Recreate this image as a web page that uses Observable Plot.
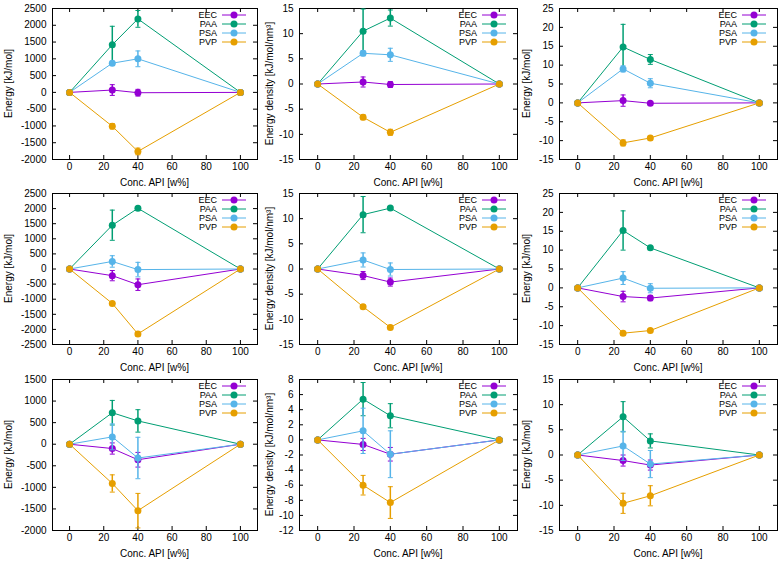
<!DOCTYPE html>
<html><head><meta charset="utf-8">
<script src="https://cdn.jsdelivr.net/npm/d3@7"></script>
<script src="https://cdn.jsdelivr.net/npm/@observablehq/plot@0.6"></script>
<style>
body{margin:0;background:#fff;}
#grid{position:relative;width:780px;height:562px;overflow:hidden;background:#fff;}
.cell{position:absolute;}
.cell svg{overflow:visible;}
</style></head><body><div id="grid"></div><script>
// ---------- data ----------
const concentrations = [0, 25, 40, 100];
const xTicks = [0, 20, 40, 60, 80, 100];
const seriesNames = ["EEC", "PAA", "PSA", "PVP"];
const seriesColors = ["#9400d3", "#009e73", "#56b4e9", "#e69f00"];

const yLabels = [
  "Energy [kJ/mol]", "Energy density [kJ/mol/nm³]", "Energy [kJ/mol]",
  "Energy [kJ/mol]", "Energy density [kJ/mol/nm³]", "Energy [kJ/mol]",
  "Energy [kJ/mol]", "Energy density [kJ/mol/nm³]", "Energy [kJ/mol]"
];
const xLabel = "Conc. API [w%]";
const yDomains = [
  [-2000, 2500], [-15, 15], [-15, 25],
  [-2500, 2500], [-15, 15], [-15, 25],
  [-2000, 1500], [-12, 8], [-15, 15]
];
const yTickSets = [
  [-2000, -1500, -1000, -500, 0, 500, 1000, 1500, 2000, 2500],
  [-15, -10, -5, 0, 5, 10, 15],
  [-15, -10, -5, 0, 5, 10, 15, 20, 25],
  [-2500, -2000, -1500, -1000, -500, 0, 500, 1000, 1500, 2000, 2500],
  [-15, -10, -5, 0, 5, 10, 15],
  [-15, -10, -5, 0, 5, 10, 15, 20, 25],
  [-2000, -1500, -1000, -500, 0, 500, 1000, 1500],
  [-12, -10, -8, -6, -4, -2, 0, 2, 4, 6, 8],
  [-15, -10, -5, 0, 5, 10, 15]
];

// one row per panel (left-to-right, top-to-bottom), values at concentrations 0, 25, 40, 100
const EEC_values = [
  [0, 70, -10, 0], [0, 0.4, -0.1, 0], [0, 0.6, -0.1, 0],
  [0, -220, -520, 0], [0, -1.3, -2.6, 0], [0, -2.3, -2.7, 0],
  [0, -100, -360, 0], [0, -0.6, -1.9, 0], [0, -1.1, -2.0, 0]
];
const EEC_errors = [
  [0, 160, 100, 0], [0, 1.0, 0.6, 0], [0, 1.5, 0.4, 0],
  [0, 170, 190, 0], [0, 0.8, 0.8, 0], [0, 1.4, 0.7, 0],
  [0, 130, 170, 0], [0, 0.8, 0.9, 0], [0, 1.1, 1.0, 0]
];
const PAA_values = [
  [0, 1420, 2190, 0], [0, 10.5, 13.1, 0], [0, 14.8, 11.5, 0],
  [0, 1450, 2010, 0], [0, 10.8, 12.1, 0], [0, 15.2, 10.6, 0],
  [0, 730, 540, 0], [0, 5.4, 3.2, 0], [0, 7.6, 2.8, 0]
];
const PAA_errors = [
  [0, 550, 250, 0], [0, 4.4, 1.6, 0], [0, 6.0, 1.3, 0],
  [0, 500, 60, 0], [0, 3.6, 0.3, 0], [0, 5.2, 0.3, 0],
  [0, 285, 260, 0], [0, 2.2, 1.6, 0], [0, 3.0, 1.4, 0]
];
const PSA_values = [
  [0, 870, 1000, 0], [0, 6.1, 5.8, 0], [0, 9.0, 5.2, 0],
  [0, 250, -20, 0], [0, 1.8, -0.1, 0], [0, 2.6, -0.1, 0],
  [0, 170, -320, 0], [0, 1.2, -1.9, 0], [0, 1.8, -1.8, 0]
];
const PSA_errors = [
  [0, 60, 235, 0], [0, 0.5, 1.3, 0], [0, 0.8, 1.2, 0],
  [0, 190, 240, 0], [0, 1.4, 1.3, 0], [0, 1.7, 1.2, 0],
  [0, 300, 480, 0], [0, 3.0, 3.1, 0], [0, 2.9, 2.7, 0]
];
const PVP_values = [
  [0, -1010, -1760, 0], [0, -6.6, -9.6, 0], [0, -10.6, -9.3, 0],
  [0, -1140, -2150, 0], [0, -7.5, -11.6, 0], [0, -12.0, -11.3, 0],
  [0, -910, -1540, 0], [0, -6.0, -8.3, 0], [0, -9.6, -8.1, 0]
];
const PVP_errors = [
  [0, 80, 100, 0], [0, 0.5, 0.6, 0], [0, 0.8, 0.5, 0],
  [0, 50, 70, 0], [0, 0.4, 0.4, 0], [0, 0.5, 0.3, 0],
  [0, 200, 400, 0], [0, 1.3, 2.1, 0], [0, 2.0, 2.0, 0]
];
const allValues = [EEC_values, PAA_values, PSA_values, PVP_values];
const allErrors = [EEC_errors, PAA_errors, PSA_errors, PVP_errors];

// ---------- layout ----------
const W = 260, H = 188, mT = 8, mB = 29, mR = 3;
const rowTops = [0, 185, 371];
const colLefts = [0, 260, 520];
const marginLefts = [52, 39, 39];
const yLabelX = [8, 9, 6];
const FONT = "'Liberation Sans', Arial, Helvetica, sans-serif";
const TICK_FS = 10, LABEL_FS = 10, LEGEND_FS = 9;

const capSymbol = {
  draw(ctx, size) {
    const w = Math.sqrt(size / Math.PI);
    ctx.moveTo(-w, 0); ctx.lineTo(w, 0);
  }
};

const grid = document.getElementById("grid");

for (let p = 0; p < 9; p++) {
  const row = Math.floor(p / 3), col = p % 3;
  const mL = marginLefts[col];
  const fw = W - mL - mR, fh = H - mT - mB;
  const yt = yTickSets[p];

  const marks = [
    Plot.frame({stroke: "black", strokeWidth: 1}),
    Plot.tickY(yt, {y: d => d, insetRight: fw - 4, stroke: "black"}),
    Plot.tickY(yt, {y: d => d, insetLeft: fw - 4, stroke: "black"}),
    Plot.tickX(xTicks, {x: d => d, insetTop: fh - 4, stroke: "black"}),
    Plot.tickX(xTicks, {x: d => d, insetBottom: fh - 4, stroke: "black"}),
    Plot.axisY(yt, {tickSize: 0, tickPadding: 6, tickFormat: d => String(d), label: null, fontSize: TICK_FS, fill: "black"}),
    Plot.axisX(xTicks, {tickSize: 0, tickPadding: 3.5, tickFormat: d => String(d), label: null, fontSize: TICK_FS, fill: "black"})
  ];

  seriesNames.forEach((name, s) => {
    const color = seriesColors[s];
    const rows = concentrations.map((x, j) => ({x, y: allValues[s][p][j], e: allErrors[s][p][j]}));
    const withErr = rows.filter(d => d.e > 0);
    const caps = withErr.flatMap(d => [{x: d.x, y: d.y - d.e}, {x: d.x, y: d.y + d.e}]);
    marks.push(
      Plot.line(rows, {x: "x", y: "y", stroke: color, strokeWidth: 1}),
      Plot.ruleX(withErr, {x: "x", y1: d => d.y - d.e, y2: d => d.y + d.e, stroke: color, strokeWidth: 1.5}),
      Plot.dot(caps, {x: "x", y: "y", symbol: capSymbol, r: 2.5, stroke: color, strokeWidth: 1, fill: "none"}),
      Plot.dot(rows, {x: "x", y: "y", r: 3.5, fill: color, stroke: "none"})
    );
  });

  const chart = Plot.plot({
    width: W, height: H,
    marginTop: mT, marginBottom: mB, marginLeft: mL, marginRight: mR,
    style: {fontFamily: FONT, fontSize: TICK_FS + "px", background: "transparent", color: "black"},
    x: {domain: [-10, 110]},
    y: {domain: yDomains[p]},
    marks
  });

  const svg = d3.select(chart);
  const fRight = W - mR;
  // legend
  seriesNames.forEach((name, s) => {
    const ly = mT + 7 + 9 * s;
    const g = svg.append("g");
    g.append("text").attr("x", fRight - 40).attr("y", ly)
      .attr("text-anchor", "end").attr("dominant-baseline", "central")
      .attr("font-family", FONT).attr("font-size", LEGEND_FS).attr("fill", "black").text(name);
    g.append("line").attr("x1", fRight - 35).attr("x2", fRight - 11)
      .attr("y1", ly).attr("y2", ly).attr("stroke", seriesColors[s]).attr("stroke-width", 1);
    g.append("circle").attr("cx", fRight - 23).attr("cy", ly).attr("r", 3.5)
      .attr("fill", seriesColors[s]);
  });
  // y label
  svg.append("text")
    .attr("transform", `translate(${yLabelX[col]},${mT + fh / 2}) rotate(-90)`)
    .attr("text-anchor", "middle").attr("dominant-baseline", "central")
    .attr("font-family", FONT).attr("font-size", LABEL_FS).attr("fill", "black")
    .text(yLabels[p]);
  // x label
  svg.append("text")
    .attr("x", mL + fw / 2).attr("y", 182)
    .attr("text-anchor", "middle").attr("dominant-baseline", "central")
    .attr("font-family", FONT).attr("font-size", LABEL_FS).attr("fill", "black")
    .text(xLabel);

  const div = document.createElement("div");
  div.className = "cell";
  div.style.left = colLefts[col] + "px";
  div.style.top = rowTops[row] + "px";
  div.appendChild(chart);
  grid.appendChild(div);
}
</script></body></html>
